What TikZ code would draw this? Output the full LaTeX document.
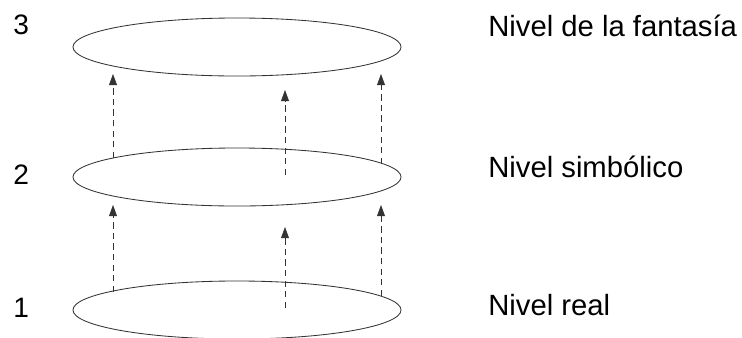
\documentclass[tikz,border=0pt]{standalone}
\usepackage{fontspec}
\setmainfont{Liberation Sans}
\usetikzlibrary{arrows.meta,shapes.geometric}
\definecolor{cline}{HTML}{333333}
\tikzset{
  level/.style={ellipse, draw=cline, line width=0.6pt, minimum width=8.2cm, minimum height=1.45cm, inner sep=0pt},
  up/.style={-{Triangle[length=2.8mm, width=2mm]}, draw=cline, line width=0.45pt, dash pattern=on 4.5pt off 3pt},
  num/.style={font=\fontsize{20}{24}\selectfont, anchor=base west, inner sep=0pt},
  lbl/.style={font=\fontsize{20.8}{25}\selectfont, anchor=base west, inner sep=0pt},
}

\begin{document}
\begin{tikzpicture}[x=0.025cm,y=-0.025cm]
\useasboundingbox (0,0) rectangle (742,337);
\node[level] (lv3) at (237,47) {};
\node[level] (lv2) at (237,177) {};
\node[level] (lv1) at (237,310) {};
\node[num] (n3) at (13,34) {3};
\node[num] (n2) at (13,184) {2};
\node[num] (n1) at (13,317) {1};
\node[lbl] (t3) at (488,36) {Nivel de la fantasía};
\node[lbl] (t2) at (488,177) {Nivel simbólico};
\node[lbl] (t1) at (488,315) {Nivel real};
% dashed arrows, level 1 -> 2 -> 3
\foreach \x/\a/\b/\c/\d in {113/292/205/158/74, 285/308/227/175/90, 381/296/205/164/74}{
  \coordinate (s1\x) at (\x,\a); \coordinate (e1\x) at (\x,\b);
  \coordinate (s2\x) at (\x,\c); \coordinate (e2\x) at (\x,\d);
  \draw[up] (s1\x) -- (e1\x);
  \draw[up] (s2\x) -- (e2\x);
}
\end{tikzpicture}
\end{document}
